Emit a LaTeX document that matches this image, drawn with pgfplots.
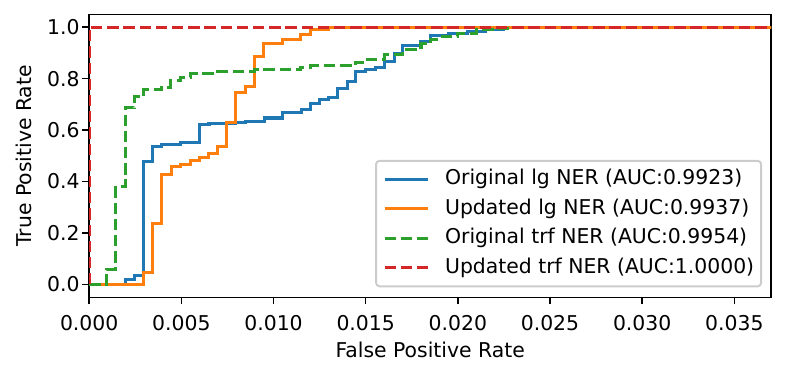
\documentclass[border=0pt]{standalone}
\usepackage{pgfplots}
\pgfplotsset{compat=1.18}
\usepackage{fontspec}
\setmainfont{DejaVu Sans}
\newlength\px
\setlength\px{0.4908bp}
\definecolor{tabblue}{HTML}{1F77B4}
\definecolor{taborange}{HTML}{FF7F0E}
\definecolor{tabgreen}{HTML}{2CA02C}
\definecolor{tabred}{HTML}{D62728}
\begin{document}
\begin{tikzpicture}[font=\fontsize{10bp}{12bp}\selectfont]
\begin{axis}[
  scale only axis,
  width=682\px, height=283\px,
  xmin=0, xmax=0.037, ymin=-0.05, ymax=1.05,
  xtick={0,0.005,0.01,0.015,0.02,0.025,0.03,0.035},
  xticklabels={0.000,0.005,0.010,0.015,0.020,0.025,0.030,0.035},
  ytick={0,0.2,0.4,0.6,0.8,1.0},
  yticklabels={0.0,0.2,0.4,0.6,0.8,1.0},
  scaled x ticks=false,
  tick align=outside,
  xtick pos=left, ytick pos=left,
  major tick length=7\px,
  every tick/.style={black, line width=1.6\px},
  axis line style={black, line width=1.6\px},
  xticklabel style={anchor=north, inner sep=0pt, yshift=-11\px},
  yticklabel style={anchor=east, inner sep=0pt, xshift=-2.3\px},
  every axis x label/.style={at={(rel axis cs:0.5,0)}, anchor=north, inner sep=0pt, yshift=-44\px},
  every axis y label/.style={at={(rel axis cs:0,0.5)}, anchor=south, inner sep=0pt, xshift=-57\px, rotate=90},
  xlabel={False Positive Rate},
  ylabel={True Positive Rate},
  legend cell align=left,
  legend image code/.code={\draw[#1] (0,0) -- (43\px,0);},
  legend style={at={(1,0)}, anchor=south east, xshift=-9\px, yshift=10\px,
    draw=black!20, line width=2\px, rounded corners=3.6\px,
    fill=white, fill opacity=0.8, text opacity=1,
    inner xsep=7\px, inner ysep=8.5\px, row sep=9.1\px, column sep=16\px,
    nodes={inner sep=0pt, text height=15.5\px, text depth=4.8\px}},
  clip=true,
]
\addplot[const plot, tabblue, line width=1.5bp] coordinates {
(0,0) (0.00199,0.02) (0.00244,0.033) (0.00295,0.477) (0.00343,0.537)
(0.00394,0.545) (0.00497,0.55) (0.00597,0.62) (0.0065,0.625) (0.00795,0.63)
(0.0085,0.634) (0.0095,0.647) (0.0105,0.667) (0.0115,0.68) (0.0120,0.705)
(0.0125,0.718) (0.0130,0.727) (0.01347,0.76) (0.0140,0.79) (0.01446,0.826)
(0.0150,0.834) (0.01555,0.845) (0.0160,0.867) (0.01654,0.899) (0.0170,0.928)
(0.0180,0.944) (0.01853,0.966) (0.01952,0.977) (0.0205,0.983) (0.0215,0.992)
(0.0225,1.0) (0.04,1.0)};
\addlegendentry{Original lg NER (AUC:0.9923)}
\addplot[const plot, taborange, line width=1.5bp] coordinates {
(0,0) (0.00295,0.047) (0.00343,0.238) (0.00394,0.428) (0.00447,0.46)
(0.00497,0.467) (0.00548,0.483) (0.00597,0.495) (0.00647,0.509) (0.00696,0.537)
(0.00747,0.628) (0.00795,0.747) (0.00846,0.77) (0.00895,0.886) (0.00945,0.938)
(0.01048,0.951) (0.01148,0.97) (0.01202,0.992) (0.0130,1.0) (0.04,1.0)};
\addlegendentry{Updated lg NER (AUC:0.9937)}
\addplot[const plot, tabgreen, line width=1.5bp, dash pattern=on 5.55bp off 2.4bp] coordinates {
(0,0) (0.00094,0.059) (0.00145,0.382) (0.00195,0.686) (0.00244,0.729)
(0.00295,0.757) (0.00394,0.767) (0.00443,0.793) (0.00497,0.805) (0.00548,0.819)
(0.00696,0.826) (0.00895,0.834) (0.01148,0.845) (0.01202,0.85) (0.01446,0.863)
(0.0150,0.876) (0.0160,0.893) (0.0170,0.912) (0.0180,0.935) (0.01853,0.953)
(0.0190,0.962) (0.0200,0.977) (0.0210,0.99) (0.0220,0.995) (0.0228,1.0) (0.04,1.0)};
\addlegendentry{Original trf NER (AUC:0.9954)}
\addplot[tabred, line width=1.5bp, dash pattern=on 5.55bp off 2.4bp] coordinates {
(0,0) (0,1) (0.04,1)};
\addlegendentry{Updated trf NER (AUC:1.0000)}
\coordinate (A) at (rel axis cs:0,0);
\coordinate (B) at (rel axis cs:1,1);
\end{axis}
\pgfresetboundingbox
\path ([shift={(-89.2\px,-77.7\px)}]A) rectangle ([shift={(17.8\px,14.3\px)}]B);
\end{tikzpicture}
\end{document}
